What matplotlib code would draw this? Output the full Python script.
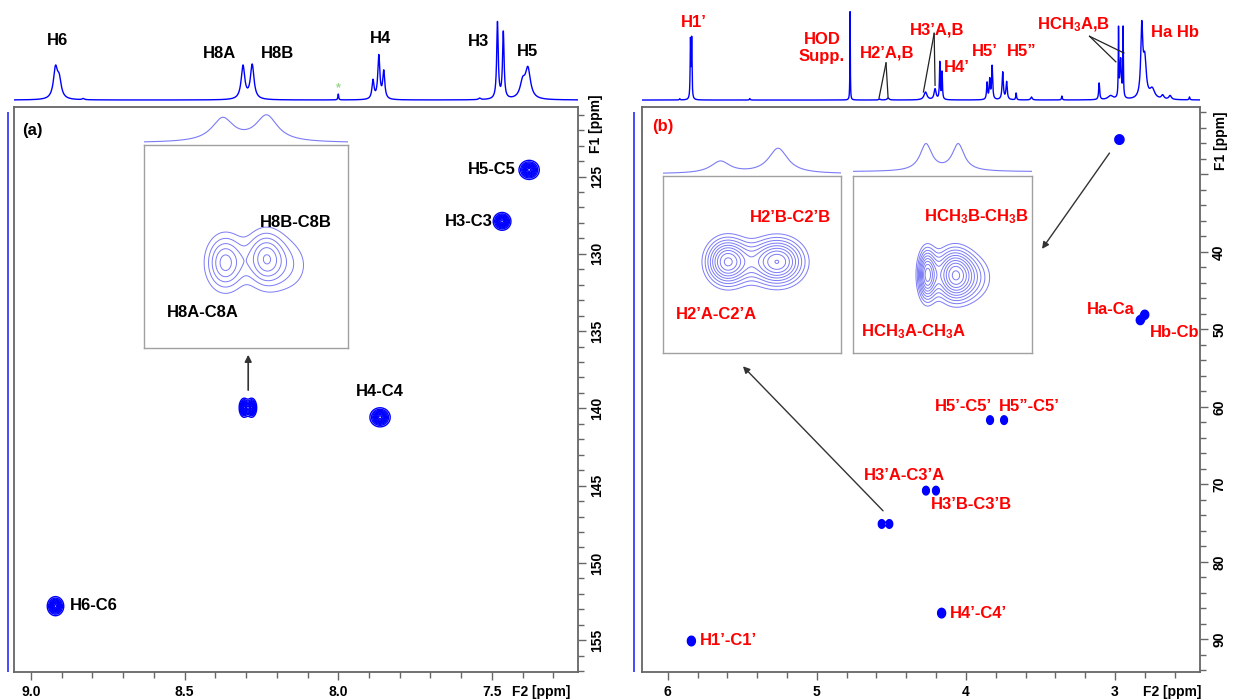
import numpy as np
import matplotlib
matplotlib.use('Agg')
import matplotlib.pyplot as plt
from matplotlib.ticker import MultipleLocator, FuncFormatter

plt.rcParams['font.family'] = ['Liberation Sans', 'DejaVu Sans']
plt.rcParams['font.weight'] = 'bold'
plt.rcParams['mathtext.fontset'] = 'custom'
plt.rcParams['mathtext.bf'] = 'Liberation Sans:bold'
plt.rcParams['mathtext.rm'] = 'Liberation Sans:bold'
plt.rcParams['mathtext.default'] = 'bf'

# ---------------- data: panel (a), aromatic region ----------------
a_f2_lim = (9.055, 7.22)
a_f1_lim = (157.06, 120.5)
# HSQC cross peaks: F2 (1H ppm), F1 (13C ppm)
a_cp_f2 = [8.920, 7.379, 7.467, 8.306, 8.282, 7.864]
a_cp_f1 = [152.8, 124.57, 127.9, 139.96, 139.96, 140.58]
a_cp_sx = [0.013, 0.016, 0.014, 0.008, 0.008, 0.016]
a_cp_sy = [0.30, 0.30, 0.28, 0.30, 0.30, 0.30]
# 1D projection lines: ppm, height, half width
a_1d_ppm = [8.920, 8.908, 8.83, 8.310, 8.280, 8.000, 7.887, 7.868, 7.852,
            7.54, 7.482, 7.463, 7.400, 7.383]
a_1d_h = [0.30, 0.18, 0.012, 0.34, 0.35, 0.06, 0.19, 0.44, 0.28,
          0.015, 0.78, 0.68, 0.16, 0.30]
a_1d_w = [0.008, 0.008, 0.004, 0.007, 0.007, 0.0015, 0.004, 0.004, 0.004,
          0.004, 0.003, 0.003, 0.010, 0.010]

# inset (a): H8A / H8B
a_in_f2_lim = (8.371, 8.218)
a_in_f1_lim = (141.22, 138.22)
a_in_f2 = [8.310, 8.280, 8.262]
a_in_f1 = [139.96, 139.90, 140.0]
a_in_amp = [1.0, 1.0, 0.35]
a_in_sx = [0.0095, 0.0095, 0.012]
a_in_sy = [0.27, 0.27, 0.30]
a_in_1d_ppm = [8.312, 8.279]
a_in_1d_h = [0.85, 0.95]
a_in_1d_w = [0.010, 0.010]

# ---------------- data: panel (b), aliphatic / sugar region ----------------
b_f2_lim = (6.176, 2.432)
b_f1_lim = (94.2, 21.3)
b_cp_f2 = [5.842, 4.565, 4.514, 4.268, 4.201, 4.163, 3.838, 3.744, 2.970, 2.830, 2.800]
b_cp_f1 = [90.2, 75.1, 75.1, 70.8, 70.8, 86.6, 61.7, 61.7, 25.5, 48.8, 48.1]
b_cp_sx = [0.013, 0.011, 0.011, 0.011, 0.011, 0.013, 0.011, 0.011, 0.015, 0.013, 0.013]
b_cp_sy = [0.30, 0.27, 0.27, 0.27, 0.27, 0.30, 0.27, 0.27, 0.30, 0.28, 0.28]
b_1d_ppm = [5.92, 5.848, 5.840, 5.45, 4.777, 4.58, 4.522, 4.271, 4.207, 4.175, 4.160,
            3.858, 3.840, 3.824, 3.753, 3.727, 3.663, 3.56, 3.356, 3.106, 3.03,
            2.976, 2.962, 2.945, 2.820, 2.800, 2.75, 2.68, 2.63, 2.50]
b_1d_h = [0.012, 0.60, 0.60, 0.015, 0.93, 0.01, 0.02, 0.08, 0.11, 0.38, 0.28,
          0.17, 0.20, 0.34, 0.28, 0.18, 0.07, 0.03, 0.04, 0.17, 0.04,
          0.68, 0.40, 0.70, 0.70, 0.38, 0.10, 0.04, 0.04, 0.03]
b_1d_w = [0.003, 0.0025, 0.0025, 0.003, 0.0015, 0.006, 0.008, 0.012, 0.008, 0.003, 0.003,
          0.004, 0.004, 0.004, 0.005, 0.005, 0.003, 0.006, 0.003, 0.004, 0.02,
          0.002, 0.006, 0.002, 0.008, 0.012, 0.02, 0.01, 0.01, 0.003]

# inset (b1): H2'A / H2'B
b1_in_f2_lim = (4.631, 4.449)
b1_in_f1_lim = (78.18, 72.18)
b1_in_f2 = [4.565, 4.514]
b1_in_f1 = [75.1, 75.1]
b1_in_amp = [1.0, 1.0]
b1_in_sx = [0.015, 0.019]
b1_in_sy = [0.55, 0.55]
b1_in_1d_ppm = [4.572, 4.513]
b1_in_1d_h = [0.45, 0.95]
b1_in_1d_w = [0.012, 0.012]

# inset (b2): HCH3A / HCH3B
b2_in_f2_lim = (3.069, 2.848)
b2_in_f1_lim = (28.24, 22.24)
b2_in_f2 = [2.978, 2.945, 2.920]
b2_in_f1 = [25.6, 25.6, 25.7]
b2_in_amp = [1.0, 1.0, 0.4]
b2_in_sx = [0.008, 0.016, 0.020]
b2_in_sy = [0.62, 0.62, 0.62]
b2_in_1d_ppm = [2.979, 2.939]
b2_in_1d_h = [0.95, 0.95]
b2_in_1d_w = [0.009, 0.009]

W, H = 1235, 700
BLUE = '#0000ff'
LBLUE = '#7b7bf5'
RED = '#ff0000'
FRAME = '#666666'


def rect(x0, y0, x1, y1):
    return [x0 / W, 1 - y1 / H, (x1 - x0) / W, (y1 - y0) / H]


def lorentz(x, ppm, h, w):
    y = np.zeros_like(x)
    for p, a, g in zip(ppm, h, w):
        y += a * g**2 / ((x - p)**2 + g**2)
    return y


def gauss2d(xx, yy, f2, f1, amp, sx, sy):
    z = np.zeros_like(xx)
    for x0, y0, a, wx, wy in zip(f2, f1, amp, sx, sy):
        z += a * np.exp(-0.5 * ((xx - x0) / wx)**2 - 0.5 * ((yy - y0) / wy)**2)
    return z


def main_axes(r, xlim, ylim, xmaj, xmin, ymaj, ymin, xfmt, hide_y=()):
    ax = fig.add_axes(r)
    ax.set_xlim(xlim)
    ax.set_ylim(ylim)
    ax.yaxis.tick_right()
    ax.xaxis.set_major_locator(MultipleLocator(xmaj))
    ax.xaxis.set_minor_locator(MultipleLocator(xmin))
    ax.yaxis.set_major_locator(MultipleLocator(ymaj))
    ax.yaxis.set_minor_locator(MultipleLocator(ymin))
    ax.xaxis.set_major_formatter(FuncFormatter(lambda v, p: xfmt % v))
    ax.yaxis.set_major_formatter(FuncFormatter(
        lambda v, p: '' if round(v) in hide_y else '%d' % round(v)))
    ax.tick_params(axis='both', which='major', length=6, width=1, color=FRAME,
                   labelsize=10, pad=3)
    ax.tick_params(axis='both', which='minor', length=4, width=1, color=FRAME)
    ax.tick_params(axis='y', labelrotation=90)
    for t in ax.get_yticklabels():
        t.set_va('center')
    for s in ax.spines.values():
        s.set_color(FRAME)
        s.set_linewidth(1.3)
    return ax


def spec_axes(r, xlim, ppm, h, w, color=BLUE, lw=1.0, ylim=(-0.02, 1.0)):
    ax = fig.add_axes(r)
    x = np.linspace(xlim[0], xlim[1], 4000)
    ax.plot(x, lorentz(x, ppm, h, w), color=color, lw=lw)
    ax.set_xlim(xlim)
    ax.set_ylim(ylim)
    ax.axis('off')
    return ax


def inset(r, xlim, ylim, f2, f1, amp, sx, sy, nlev):
    ax = fig.add_axes(r)
    x = np.linspace(xlim[0], xlim[1], 300)
    y = np.linspace(ylim[1], ylim[0], 300)
    xx, yy = np.meshgrid(x, y)
    z = gauss2d(xx, yy, f2, f1, amp, sx, sy)
    ax.contour(xx, yy, z, levels=np.linspace(0.22, 0.97, nlev) * z.max(),
               colors=LBLUE, linewidths=0.7)
    ax.set_xlim(xlim)
    ax.set_ylim(ylim)
    ax.set_xticks([])
    ax.set_yticks([])
    for s in ax.spines.values():
        s.set_color('#a0a0a0')
        s.set_linewidth(1.0)
    return ax


fig = plt.figure(figsize=(W / 100, H / 100), dpi=100)

# =============== panel (a) ===============
axa = main_axes(rect(14, 107, 578, 672), a_f2_lim, a_f1_lim, 0.5, 0.1, 5, 1, '%.1f')
x = np.linspace(a_f2_lim[0], a_f2_lim[1], 800)
y = np.linspace(a_f1_lim[1], a_f1_lim[0], 800)
xx, yy = np.meshgrid(x, y)
za = gauss2d(xx, yy, a_cp_f2, a_cp_f1, np.ones(len(a_cp_f2)), a_cp_sx, a_cp_sy)
axa.contour(xx, yy, za, levels=np.linspace(0.12, 0.95, 9), colors=BLUE, linewidths=1.0)

axa.text(9.029, 122.0, '(a)', fontsize=12, ha='left', va='center')
axa.text(8.873, 152.75, 'H6-C6', fontsize=12, ha='left', va='center')
axa.text(7.422, 124.57, 'H5-C5', fontsize=12, ha='right', va='center')
axa.text(7.497, 127.9, 'H3-C3', fontsize=12, ha='right', va='center')
axa.text(7.864, 138.9, 'H4-C4', fontsize=12, ha='center', va='center')
axa.annotate('', xy=(8.293, 136.35), xytext=(8.293, 139.0),
             arrowprops=dict(arrowstyle='-|>', color='#333333', lw=1.2, mutation_scale=10))
axa.text(1.02, 0.97, 'F1 [ppm]', transform=axa.transAxes, rotation=90,
         fontsize=10, ha='left', va='center')
axa.text(0.935, -0.035, 'F2 [ppm]', transform=axa.transAxes,
         fontsize=10, ha='center', va='center')

# F1 projection (flat)
pa = fig.add_axes(rect(4, 112, 12, 672))
pa.axvline(0, color='#3a3aff', lw=1.3)
pa.set_xlim(-1, 1)
pa.axis('off')

# 1D spectrum on top
sa = spec_axes(rect(14, 2, 578, 102), a_f2_lim, a_1d_ppm, a_1d_h, a_1d_w)
for txt, px, h in [('H6', 8.915, 0.61), ('H8A', 8.388, 0.47), ('H8B', 8.199, 0.47),
                   ('H4', 7.861, 0.63), ('H3', 7.545, 0.60), ('H5', 7.383, 0.50)]:
    sa.text(px, h, txt, fontsize=12, ha='center', va='center')
sa.text(8.0, 0.12, '*', fontsize=9, color='#9bd88f', ha='center', va='center')

# inset (a)
ia = inset(rect(144, 145, 348, 348), a_in_f2_lim, a_in_f1_lim,
           a_in_f2, a_in_f1, a_in_amp, a_in_sx, a_in_sy, 6)
ia.text(0.744, 0.616, 'H8B-C8B', transform=ia.transAxes, fontsize=12, ha='center', va='center')
ia.text(0.288, 0.177, 'H8A-C8A', transform=ia.transAxes, fontsize=12, ha='center', va='center')
spec_axes(rect(144, 114, 348, 145), a_in_f2_lim, a_in_1d_ppm, a_in_1d_h, a_in_1d_w,
          color=LBLUE, lw=0.8, ylim=(-0.08, 1.05))

# =============== panel (b) ===============
axb = main_axes(rect(641.6, 107, 1199.6, 672), b_f2_lim, b_f1_lim, 1, 0.2, 10, 2, '%d',
                hide_y=(30,))
x = np.linspace(b_f2_lim[0], b_f2_lim[1], 1000)
y = np.linspace(b_f1_lim[1], b_f1_lim[0], 1000)
xx, yy = np.meshgrid(x, y)
zb = gauss2d(xx, yy, b_cp_f2, b_cp_f1, np.ones(len(b_cp_f2)), b_cp_sx, b_cp_sy)
axb.contour(xx, yy, zb, levels=np.linspace(0.12, 0.95, 8), colors=BLUE, linewidths=1.0)

for txt, px, py, ha in [('(b)', 6.106, 23.85, 'left'),
                        ('H1\u2019-C1\u2019', 5.784, 90.2, 'left'),
                        ('H4\u2019-C4\u2019', 4.106, 86.6, 'left'),
                        ('H3\u2019A-C3\u2019A', 4.415, 68.83, 'center'),
                        ('H3\u2019B-C3\u2019B', 3.961, 72.62, 'center'),
                        ('H5\u2019-C5\u2019', 4.019, 59.9, 'center'),
                        ('H5\u201d-C5\u2019', 3.576, 59.9, 'center'),
                        ('Ha-Ca', 3.028, 47.4, 'center'),
                        ('Hb-Cb', 2.596, 50.4, 'center')]:
    axb.text(px, py, txt, fontsize=12, color=RED, ha=ha, va='center')
axb.annotate('', xy=(5.509, 54.5), xytext=(4.543, 73.66),
             arrowprops=dict(arrowstyle='-|>', color='#333333', lw=1.0, mutation_scale=10))
axb.annotate('', xy=(3.50, 39.9), xytext=(3.026, 26.95),
             arrowprops=dict(arrowstyle='-|>', color='#333333', lw=1.0, mutation_scale=10))
axb.text(1.025, 0.94, 'F1 [ppm]', transform=axb.transAxes, rotation=90,
         fontsize=10, ha='left', va='center')
axb.text(0.95, -0.035, 'F2 [ppm]', transform=axb.transAxes,
         fontsize=10, ha='center', va='center')

pb = fig.add_axes(rect(630, 112, 638, 672))
pb.axvline(0, color='#3a3aff', lw=1.3)
pb.set_xlim(-1, 1)
pb.axis('off')

sb = spec_axes(rect(641.6, 2, 1199.6, 102), b_f2_lim, b_1d_ppm, b_1d_h, b_1d_w)
for txt, px, h in [('H1\u2019', 5.824, 0.786), ('HOD\nSupp.', 4.965, 0.53),
                   ('H2\u2019A,B', 4.53, 0.48), ('H3\u2019A,B', 4.195, 0.71),
                   ('H4\u2019', 4.06, 0.33), ('H5\u2019', 3.872, 0.49),
                   ('H5\u201d', 3.624, 0.49), ('HCH$_3$A,B', 3.275, 0.765),
                   ('Ha Hb', 2.60, 0.69)]:
    sb.text(px, h, txt, fontsize=12, color=RED, ha='center', va='center',
            linespacing=1.15)
for (x0, h0), ends in [((4.536, 0.378), [(4.583, 0.02), (4.522, 0.02)]),
                       ((4.213, 0.68), [(4.285, 0.082), (4.207, 0.15)]),
                       ((3.17, 0.65), [(2.994, 0.39), (2.94, 0.48)])]:
    for x1, h1 in ends:
        sb.plot([x0, x1], [h0, h1], color='#222222', lw=0.9)

ib1 = inset(rect(662.7, 175.7, 840.7, 352.7), b1_in_f2_lim, b1_in_f1_lim,
            b1_in_f2, b1_in_f1, b1_in_amp, b1_in_sx, b1_in_sy, 9)
ib1.text(0.719, 0.765, 'H2\u2019B-C2\u2019B', transform=ib1.transAxes, fontsize=12,
         color=RED, ha='center', va='center')
ib1.text(0.30, 0.215, 'H2\u2019A-C2\u2019A', transform=ib1.transAxes, fontsize=12,
         color=RED, ha='center', va='center')
spec_axes(rect(662.7, 146, 840.7, 176), b1_in_f2_lim, b1_in_1d_ppm, b1_in_1d_h, b1_in_1d_w,
          color=LBLUE, lw=0.8, ylim=(-0.08, 1.05))

ib2 = inset(rect(853.3, 175.7, 1031.7, 352.7), b2_in_f2_lim, b2_in_f1_lim,
            b2_in_f2, b2_in_f1, b2_in_amp, b2_in_sx, b2_in_sy, 10)
ib2.text(0.693, 0.767, 'HCH$_3$B-CH$_3$B', transform=ib2.transAxes, fontsize=12,
         color=RED, ha='center', va='center')
ib2.text(0.337, 0.119, 'HCH$_3$A-CH$_3$A', transform=ib2.transAxes, fontsize=12,
         color=RED, ha='center', va='center')
spec_axes(rect(853.3, 142, 1031.7, 174), b2_in_f2_lim, b2_in_1d_ppm, b2_in_1d_h, b2_in_1d_w,
          color=LBLUE, lw=0.8, ylim=(-0.08, 1.05))

fig.savefig('out.png', dpi=100)
